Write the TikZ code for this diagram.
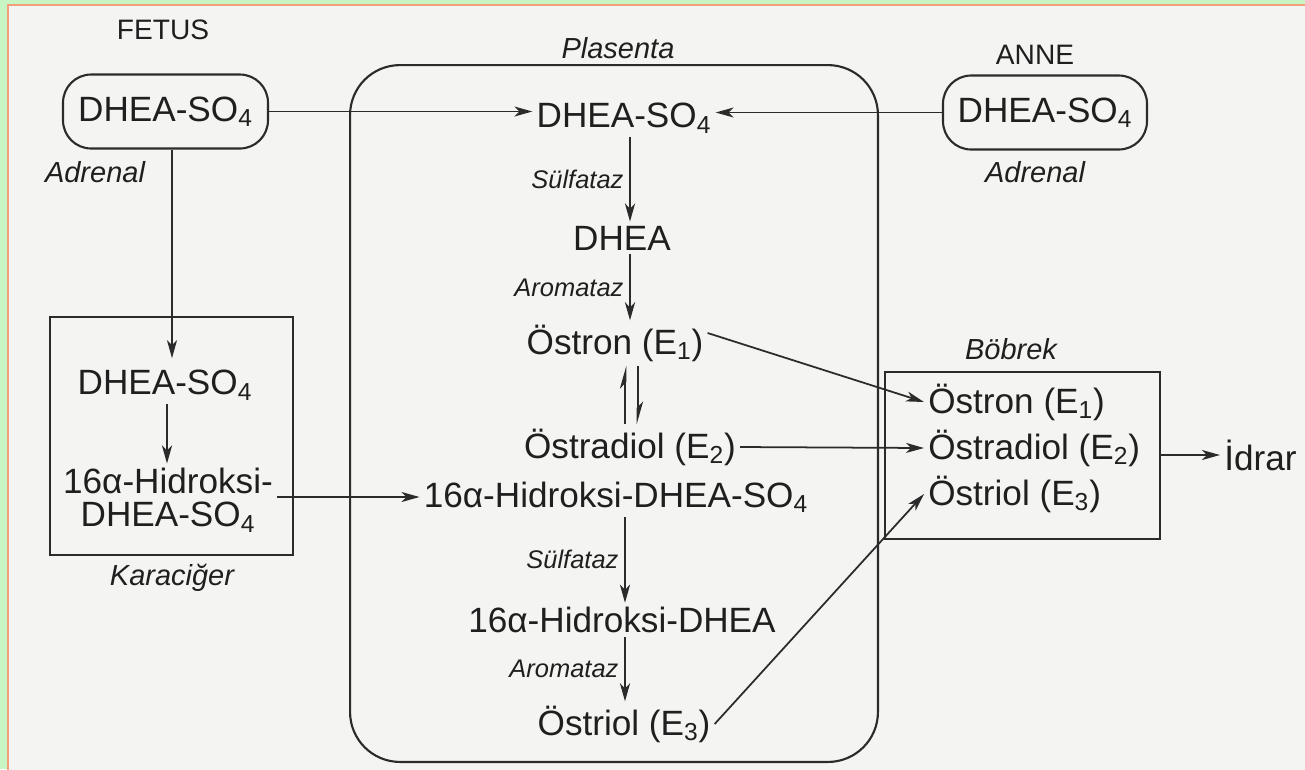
\documentclass[tikz,border=0pt]{standalone}
\usepackage{fontspec}
\setmainfont{Liberation Sans}
\usetikzlibrary{arrows.meta, positioning}
\definecolor{cink}{HTML}{1F1F1F}
\definecolor{cline}{HTML}{2B2B2B}
\definecolor{cpaper}{HTML}{F4F4F2}
\definecolor{cgreen}{HTML}{C9F5C4}
\definecolor{corange}{HTML}{F2A07A}
\tikzset{
  every picture/.style={line width=0.9pt, x=0.02cm, y=-0.02cm},
  chem/.style={font=\fontsize{20}{19}\selectfont, text=cink, inner sep=2pt},
  organ/.style={font=\fontsize{16}{18}\selectfont, text=cink},
  site/.style={font=\itshape\fontsize{16.5}{18}\selectfont, text=cink},
  enzyme/.style={font=\itshape\fontsize{14.5}{16}\selectfont, text=cink, inner sep=3pt},
  pill/.style={chem, draw=cline, line width=1.2pt, rounded corners=16pt, minimum height=1.48cm},
  frame/.style={draw=cline, line width=1.2pt, inner sep=0pt},
  arrow/.style={-{Stealth[length=3.6mm, width=2mm, inset=1mm]}, draw=cline, line width=1pt},
  chain/.style={arrow, line width=1.5pt},
  harp/.style={-{Stealth[length=3.6mm, width=2mm, inset=1mm, harpoon]}, draw=cline, line width=1.5pt},
}

\begin{document}
\begin{tikzpicture}
  % paper
  \useasboundingbox (0,0) rectangle (1305,769);
  \fill[cgreen] (0,0) rectangle (1305,769);
  \filldraw[fill=cpaper, draw=corange, line width=0.6pt] (8,5) rectangle (1312,776);

  % compartments
  \node[frame, rounded corners=1cm, minimum width=10.56cm, minimum height=13.94cm] (plasenta) at (614,413.5) {};
  \node[site] (plasentalbl) at (618,48) {Plasenta};
  \node[frame, minimum width=4.86cm, minimum height=4.76cm] (karaciger) at (171.5,436) {};
  \node[site] (karacigerlbl) at (172,578) {Karaciğer};
  \node[frame, minimum width=5.5cm, minimum height=3.34cm] (bobrek) at (1022.5,455.5) {};
  \node[site] (bobreklbl) at (1011,349) {Böbrek};

  % fetus and mother
  \node[organ] (fetuslbl) at (163,30) {FETUS};
  \node[pill, minimum width=4.1cm] (fetus) at (165.5,111.5) {DHEA-SO\textsubscript{4}};
  \node[site] (adrenalf) at (95,172) {Adrenal};
  \node[organ] (annelbl) at (1035,55) {ANNE};
  \node[pill, minimum width=4.08cm] (anne) at (1045,112.5) {DHEA-SO\textsubscript{4}};
  \node[site] (adrenala) at (1035,172) {Adrenal};

  % liver
  \node[chem] (livdhso) at (165,385) {DHEA-SO\textsubscript{4}};
  \node[chem, align=center] (livhyd) at (168,500) {16α-Hidroksi-\\DHEA-SO\textsubscript{4}};

  % placenta
  \node[chem] (pldhso) at (624,118) {DHEA-SO\textsubscript{4}};
  \node[chem] (pldhea) at (622,238) {DHEA};
  \node[chem] (plestron) at (615,343) {Östron (E\textsubscript{1})};
  \node[chem] (plestrad) at (630,447) {Östradiol (E\textsubscript{2})};
  \node[chem] (plhydso) at (616,497) {16α-Hidroksi-DHEA-SO\textsubscript{4}};
  \node[chem] (plhyd) at (622,620) {16α-Hidroksi-DHEA};
  \node[chem] (plestriol) at (624,724) {Östriol (E\textsubscript{3})};

  % kidney
  \node[chem, anchor=west] (kestron) at (924,402) {Östron (E\textsubscript{1})};
  \node[chem, anchor=west] (kestrad) at (924,448) {Östradiol (E\textsubscript{2})};
  \node[chem, anchor=west] (kestriol) at (924,494) {Östriol (E\textsubscript{3})};
  \node[chem, anchor=west] (idrar) at (1220,455) {İdrar};

  \coordinate (fx) at (172,0);
  \coordinate (lx) at (167,0);
  \coordinate (ax) at (630,0);
  \coordinate (bx) at (625,0);
  \coordinate (hl) at (625,0);
  \coordinate (hr) at (638,0);

  % connectors
  \draw[arrow] (fetus.east) -- (fetus.east -| pldhso.west);
  \draw[arrow] (anne.west) -- (anne.west -| pldhso.east);
  \draw[arrow] (fetus.south -| fx) -- ([yshift=0.15cm]livdhso.north -| fx);
  \draw[chain] (livdhso.south -| lx) -- (livhyd.north -| lx);
  \draw[arrow] ([yshift=0.06cm]livhyd.east) -- ([yshift=0.06cm]livhyd.east -| plhydso.west);

  \draw[chain] (pldhso.south -| ax) -- node[enzyme, left] {Sülfataz} (pldhea.north -| ax);
  \draw[chain] (pldhea.south -| ax) -- node[enzyme, left] {Aromataz} (plestron.north -| ax);
  \draw[harp] (plestrad.north -| hl) -- (plestron.south -| hl);
  \draw[harp] (plestron.south -| hr) -- (plestrad.north -| hr);
  \draw[chain] (plhydso.south -| bx) -- node[enzyme, left] {Sülfataz} (plhyd.north -| bx);
  \draw[chain] (plhyd.south -| bx) -- node[enzyme, left] {Aromataz} (plestriol.north -| bx);

  \draw[arrow] ([yshift=0.2cm]plestron.east) -- (kestron.west);
  \draw[arrow] (plestrad.east) -- (kestrad.west);
  \draw[arrow] (plestriol.east) -- (kestriol.west);
  \draw[arrow] (bobrek.east |- idrar) -- (idrar.west);
\end{tikzpicture}
\end{document}
